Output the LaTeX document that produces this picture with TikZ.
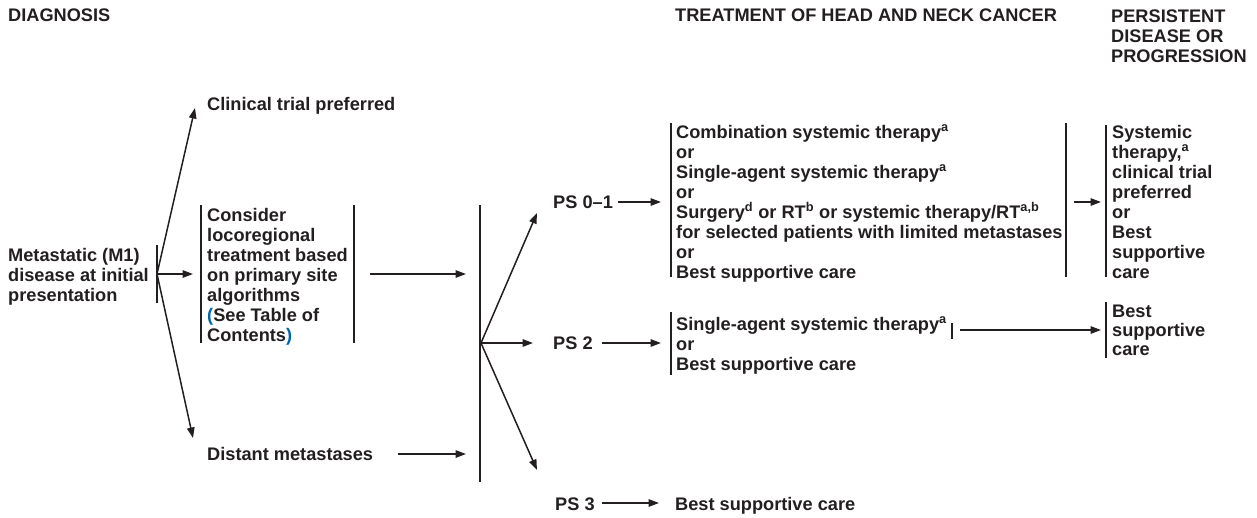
\documentclass[tikz,border=0pt]{standalone}
\usepackage{fontspec}
\setmainfont{Liberation Sans}
\usetikzlibrary{arrows.meta}
\definecolor{ink}{RGB}{35,31,32}
\definecolor{linkblue}{RGB}{0,101,175}
\newcommand\hs{\rule{0pt}{14pt}}
\newcommand\sps[1]{\textsuperscript{#1}}
\begin{document}
\begin{tikzpicture}[x=1pt,y=-1pt,
  txt/.style={anchor=north west, inner sep=0pt, align=left, text=ink,
    font=\fontsize{18.2}{20}\selectfont\bfseries},
  arr/.style={draw=ink, line width=1.5pt, -{Triangle[length=10.5pt,width=7.5pt]}},
  bar/.style={draw=ink, line width=1.6pt}]
\useasboundingbox (0,0) rectangle (1257,517);

% headers
\node[txt] (hdiag) at (8,7) {\hs DIAGNOSIS};
\node[txt] (htreat) at (675,7) {\hs TREATMENT OF HEAD AND NECK CANCER};
\node[txt] (hpers) at (1111,8) {\hs PERSISTENT\\DISEASE OR\\PROGRESSION};

% diagnosis column
\node[txt] (clin) at (207,96) {\hs Clinical trial preferred};
\node[txt] (meta) at (8,247) {\hs Metastatic (M1)\\disease at initial\\presentation};
\node[txt] (cons) at (207,207) {\hs Consider\\locoregional\\treatment based\\on primary site\\algorithms\\{\color{linkblue}(}See Table of\\Contents{\color{linkblue})}};
\node[txt] (dist) at (207,446) {\hs Distant metastases};

% performance status
\node[txt] (ps01) at (553,194) {\hs PS 0--1};
\node[txt] (ps2) at (553,335) {\hs PS 2};
\node[txt] (ps3) at (555,496) {\hs PS 3};

% treatment
\node[txt] (t01) at (676,124) {\hs Combination systemic therapy\sps{a}\\or\\Single-agent systemic therapy\sps{a}\\or\\Surgery\sps{d} or RT\sps{b} or systemic therapy/RT\sps{a,b}\\for selected patients with limited metastases\\or\\Best supportive care};
\node[txt] (t2) at (676,316) {\hs Single-agent systemic therapy\sps{a}\\or\\Best supportive care};
\node[txt] (t3) at (675,496) {\hs Best supportive care};

% persistent
\node[txt] (p01) at (1112,124) {\hs Systemic\\therapy,\sps{a}\\clinical trial\\preferred\\or\\Best\\supportive\\care};
\node[txt] (p2) at (1112,303) {\hs Best\\[-1pt]supportive\\[-1pt]care};

% bars
\draw[bar] (157,245) -- (157,303);
\draw[bar] (201,205) -- (201,343);
\draw[bar] (354,205) -- (354,343);
\draw[bar] (480,205) -- (480,482);
\draw[bar] (671,123) -- (671,277);
\draw[bar] (1066,123) -- (1066,277);
\draw[bar] (1106,125) -- (1106,277);
\draw[bar] (671,312) -- (671,375);
\draw[bar] (952,323) -- (952,339);
\draw[bar] (1106,302) -- (1106,358);

% connector coordinates
\coordinate (m0) at (157,274);
\coordinate (mClin) at (195,108);
\coordinate (mCons) at (193,274);
\coordinate (mDist) at (193,438);
\coordinate (consOut) at (370,274);
\coordinate (consIn) at (466,274);
\coordinate (distOut) at (398,454);
\coordinate (distIn) at (466,454);
\coordinate (f0) at (481,343);
\coordinate (fPS01) at (537,213);
\coordinate (fPS2) at (533,343);
\coordinate (fPS3) at (537,470);
\coordinate (ps01Out) at (618,202);
\coordinate (ps01In) at (661,202);
\coordinate (ps2Out) at (602,343);
\coordinate (ps2In) at (661,343);
\coordinate (ps3Out) at (602,503);
\coordinate (ps3In) at (659,503);
\coordinate (t01Out) at (1074,202);
\coordinate (t01In) at (1101,202);
\coordinate (t2Out) at (960,330);
\coordinate (t2In) at (1101,330);

\draw[arr] (m0) -- (mClin);
\draw[arr] (m0) -- (mCons);
\draw[arr] (m0) -- (mDist);
\draw[arr] (consOut) -- (consIn);
\draw[arr] (distOut) -- (distIn);
\draw[arr] (f0) -- (fPS01);
\draw[arr] (f0) -- (fPS2);
\draw[arr] (f0) -- (fPS3);
\draw[arr] (ps01Out) -- (ps01In);
\draw[arr] (ps2Out) -- (ps2In);
\draw[arr] (ps3Out) -- (ps3In);
\draw[arr] (t01Out) -- (t01In);
\draw[arr] (t2Out) -- (t2In);
\end{tikzpicture}
\end{document}
